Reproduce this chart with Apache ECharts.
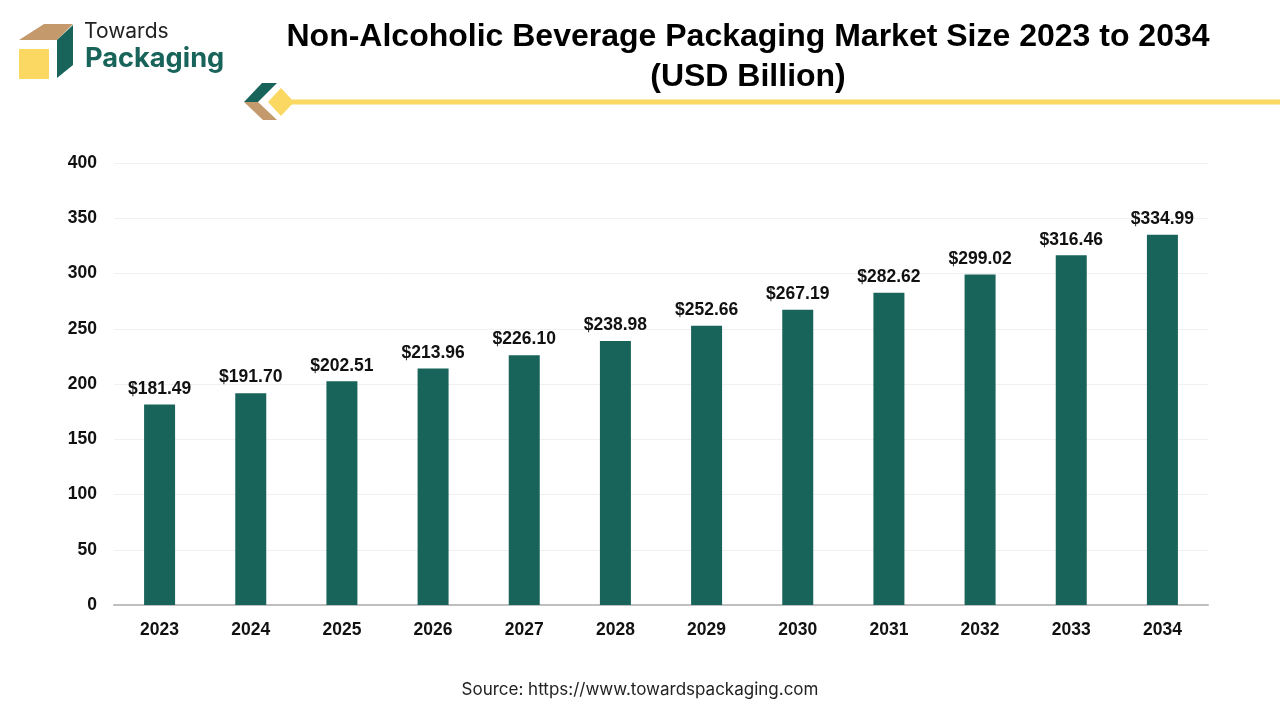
<!DOCTYPE html>
<html><head><meta charset="utf-8">
<style>html,body{margin:0;padding:0;background:#fff}#c{width:1280px;height:720px}</style>
<script src="https://cdn.jsdelivr.net/npm/echarts@6/dist/echarts.min.js"></script>
</head><body><div id="c"></div>
<script>
const categories = ['2023','2024','2025','2026','2027','2028','2029','2030','2031','2032','2033','2034'];
const marketSize = [181.49,191.70,202.51,213.96,226.10,238.98,252.66,267.19,282.62,299.02,316.46,334.99];
const GREEN='#18645A', TAN='#C49A6C', YEL='#FAD862';
const FF='"Liberation Sans", Arial, sans-serif';
const chart = echarts.init(document.getElementById('c'));
const poly=(points,fill)=>({type:'polygon',shape:{points},style:{fill}});
chart.setOption({
  animation:false,
  backgroundColor:'#fff',
  grid:{left:114,right:72,top:163,bottom:115,containLabel:false},
  xAxis:{type:'category',data:categories,
    axisLine:{lineStyle:{color:'#BFBFBF',width:2}},axisTick:{show:false},
    axisLabel:{color:'#111',fontFamily:FF,fontWeight:'bold',fontSize:17.5,margin:16}},
  yAxis:{type:'value',min:0,max:400,interval:50,
    axisLine:{show:false},axisTick:{show:false},
    splitLine:{lineStyle:{color:'#F0F0F0',width:1}},
    axisLabel:{color:'#111',fontFamily:FF,fontWeight:'bold',fontSize:17.5,margin:17,padding:[4,0,0,0]}},
  series:[{type:'bar',data:marketSize,barWidth:31,
    itemStyle:{color:GREEN},
    label:{show:true,position:'top',distance:6.5,color:'#111',fontFamily:FF,fontWeight:'bold',fontSize:17.5,
      formatter:p=>'$'+p.value.toFixed(2)}}],
  graphic:[
    poly([[19,40],[44,24],[73,24],[57,40]],TAN),
    poly([[57,40],[73,25],[73,65],[57,78]],GREEN),
    {type:'rect',shape:{x:19,y:49,width:30,height:30},style:{fill:YEL}},
    {type:'text',x:84,y:32,style:{text:'Towards',fill:'#222',font:'400 21px Inter, sans-serif',textVerticalAlign:'middle'}},
    {type:'text',x:85,y:58.5,style:{text:'Packaging',fill:GREEN,font:'700 27.2px Inter, sans-serif',textVerticalAlign:'middle'}},
    {type:'text',x:748,y:37,style:{text:'Non-Alcoholic Beverage Packaging Market Size 2023 to 2034',fill:'#000',font:'700 32px '+FF,textAlign:'center',textVerticalAlign:'middle'}},
    {type:'text',x:748,y:77,style:{text:'(USD Billion)',fill:'#000',font:'700 32px '+FF,textAlign:'center',textVerticalAlign:'middle'}},
    {type:'rect',shape:{x:288,y:99.5,width:992,height:5},style:{fill:YEL}},
    poly([[244,102],[262,83],[277,83],[258,102]],GREEN),
    poly([[244,102],[258,102],[277,120],[263,120]],TAN),
    poly([[268,102],[281,88],[294,102],[281,116]],YEL),
    {type:'text',x:640,y:690,style:{text:'Source: https://www.towardspackaging.com',fill:'#222',font:'400 17px Inter, sans-serif',textAlign:'center',textVerticalAlign:'middle'}}
  ]
});
</script></body></html>
